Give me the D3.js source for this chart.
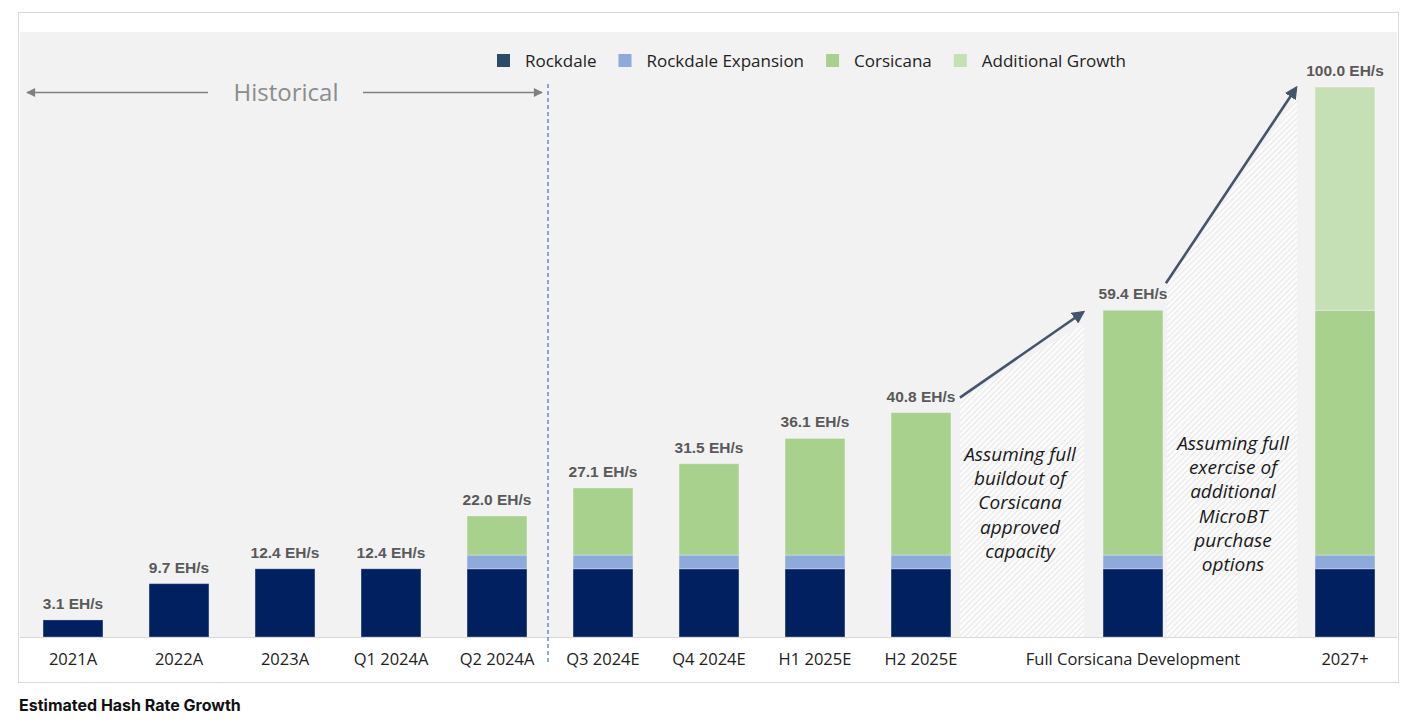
<!DOCTYPE html>
<html>
<head>
<meta charset="utf-8">
<script src="https://cdn.jsdelivr.net/npm/d3@7"></script>
<style>
  body { margin: 0; background: #fff; }
  svg { display: block; }
</style>
</head>
<body>
<div id="chart"></div>
<script>
// Categories (gap slots hold the hatched annotations)
const categories = ["2021A", "2022A", "2023A", "Q1 2024A", "Q2 2024A", "Q3 2024E", "Q4 2024E",
                    "H1 2025E", "H2 2025E", "Full Corsicana Development", "2027+"];
const slots = ["2021A", "2022A", "2023A", "Q1 2024A", "Q2 2024A", "Q3 2024E", "Q4 2024E",
               "H1 2025E", "H2 2025E", "gap1", "Full Corsicana Development", "gap2", "2027+"];

// Series values (EH/s)
const rockdale   = [3.1, 9.7, 12.4, 12.4, 12.4, 12.4, 12.4, 12.4, 12.4, 12.4, 12.4];
const expansion  = [0, 0, 0, 0, 2.5, 2.5, 2.5, 2.5, 2.5, 2.5, 2.5];
const corsicana  = [0, 0, 0, 0, 7.1, 12.2, 16.6, 21.2, 25.9, 44.5, 44.5];
const additional = [0, 0, 0, 0, 0, 0, 0, 0, 0, 0, 40.6];
const totals     = [3.1, 9.7, 12.4, 12.4, 22.0, 27.1, 31.5, 36.1, 40.8, 59.4, 100.0];

const seriesNames  = ["Rockdale", "Rockdale Expansion", "Corsicana", "Additional Growth"];
const seriesColors = ["#002060", "#8EA9DB", "#A9D18E", "#C5E0B4"];
const legendColors = ["#2E4A6B", "#8EA9DB", "#A9D18E", "#C5E0B4"];

const notes = {
  gap1: ["Assuming full", "buildout of", "Corsicana", "approved", "capacity"],
  gap2: ["Assuming full", "exercise of", "additional", "MicroBT", "purchase", "options"]
};

const width = 1417, height = 721;
const plot = { left: 20, right: 1398, top: 32, bottom: 637 };

const svg = d3.select("#chart").append("svg")
  .attr("width", width).attr("height", height);

// hatch pattern
const defs = svg.append("defs");
const pat = defs.append("pattern")
  .attr("id", "hatch").attr("patternUnits", "userSpaceOnUse")
  .attr("width", 4).attr("height", 4)
  .attr("patternTransform", "rotate(45)");
pat.append("rect").attr("width", 4).attr("height", 4).attr("fill", "#fbfbfb");
pat.append("line").attr("x1", 0).attr("y1", 0).attr("x2", 0).attr("y2", 4)
  .attr("stroke", "#d4d4d4").attr("stroke-width", 1);

const arrowDark = defs.append("marker")
  .attr("id", "arrowDark").attr("viewBox", "0 0 10 10")
  .attr("refX", 8).attr("refY", 5)
  .attr("markerWidth", 5).attr("markerHeight", 5)
  .attr("markerUnits", "strokeWidth")
  .attr("orient", "auto");
arrowDark.append("path").attr("d", "M0,0 L10,5 L0,10 z").attr("fill", "#44546A");

const arrowGray = defs.append("marker")
  .attr("id", "arrowGray").attr("viewBox", "0 0 10 10")
  .attr("refX", 9).attr("refY", 5)
  .attr("markerWidth", 7).attr("markerHeight", 6)
  .attr("markerUnits", "strokeWidth")
  .attr("orient", "auto-start-reverse");
arrowGray.append("path").attr("d", "M0,0 L10,5 L0,10 z").attr("fill", "#808080");

// outer frame and plot background
svg.append("rect")
  .attr("x", 18.5).attr("y", 12.5).attr("width", 1380).attr("height", 670)
  .attr("fill", "#fff").attr("stroke", "#d9d9d9");
svg.append("rect")
  .attr("x", plot.left).attr("y", plot.top)
  .attr("width", plot.right - plot.left - 1).attr("height", plot.bottom - plot.top)
  .attr("fill", "#f2f2f2");

const x = d3.scaleBand().domain(slots).range([plot.left, plot.right]).paddingInner(0.435).paddingOuter(0.2175);
const y = d3.scaleLinear().domain([0, 100]).range([plot.bottom, 87]);
const bw = x.bandwidth();

// stacked data
const rows = categories.map((c, i) => ({
  cat: c, "Rockdale": rockdale[i], "Rockdale Expansion": expansion[i],
  "Corsicana": corsicana[i], "Additional Growth": additional[i], total: totals[i]
}));
const stack = d3.stack().keys(seriesNames)(rows);

// hatched areas under the growth arrows
const fullIdx = categories.indexOf("Full Corsicana Development");
const arrows = [
  { from: [x("H2 2025E") + bw + 9, y(totals[8]) - 15], to: [x(categories[fullIdx]) - 20, y(totals[fullIdx]) + 2] },
  { from: [x(categories[fullIdx]) + bw + 3, y(totals[fullIdx]) - 27], to: [x("2027+") - 19, y(totals[10]) + 1] }
];
const hatchTopOffsets = [[2, 11], [0, 9]];
arrows.forEach((a, i) => {
  const l = a.from[0] + (i === 1 ? 1 : 0), r = a.to[0] + 1;
  const pts = [[l, plot.bottom], [l, a.from[1] + hatchTopOffsets[i][0]],
               [r, a.to[1] + hatchTopOffsets[i][1]], [r, plot.bottom]];
  svg.append("path").attr("d", d3.line()(pts) + "Z").attr("fill", "url(#hatch)");
});

// bars
svg.append("g").selectAll("g").data(stack).join("g")
  .attr("fill", (d, i) => seriesColors[i])
  .selectAll("rect").data(d => d.filter(s => s[1] - s[0] > 0)).join("rect")
  .attr("x", d => x(d.data.cat))
  .attr("y", d => y(d[1]))
  .attr("width", bw)
  .attr("height", d => y(d[0]) - y(d[1]))
  .attr("stroke", "rgba(255,255,255,0.3)").attr("stroke-width", 1);

// value labels
svg.append("g").selectAll("text").data(rows).join("text")
  .attr("x", d => x(d.cat) + bw / 2)
  .attr("y", d => y(d.total) - 11)
  .attr("text-anchor", "middle")
  .attr("font-family", "Liberation Sans, Arial, sans-serif")
  .attr("font-weight", "bold").attr("font-size", 15.5)
  .attr("fill", "#595959")
  .text(d => d.total.toFixed(1) + " EH/s");

// growth arrows
arrows.forEach(a => {
  svg.append("line")
    .attr("x1", a.from[0]).attr("y1", a.from[1])
    .attr("x2", a.to[0]).attr("y2", a.to[1])
    .attr("stroke", "#44546A").attr("stroke-width", 2.6)
    .attr("marker-end", "url(#arrowDark)");
});

// annotations in gap slots
const noteTops = { gap1: 454, gap2: 443 };
Object.keys(notes).forEach(k => {
  const cx = x(k) + bw / 2 + (k === "gap1" ? -7 : -6);
  const t = svg.append("text")
    .attr("x", cx)
    .attr("y", noteTops[k] + 7)
    .attr("text-anchor", "middle")
    .attr("font-family", "Open Sans, sans-serif")
    .attr("font-style", "italic").attr("font-size", 19)
    .attr("fill", "#1a1a1a");
  notes[k].forEach((line, i) => {
    t.append("tspan").attr("x", cx)
      .attr("dy", i === 0 ? 0 : 24.2).text(line);
  });
});

// x axis
const axis = svg.append("g")
  .attr("transform", `translate(0,${plot.bottom})`)
  .call(d3.axisBottom(x).tickSize(0).tickPadding(16)
    .tickFormat(d => d.startsWith("gap") ? "" : d));
axis.select(".domain").attr("stroke", "#d9d9d9").attr("d", `M${plot.left},0.5H${plot.right - 1}`);
axis.selectAll("text")
  .attr("font-family", "Open Sans, sans-serif").attr("font-size", 16.5)
  .attr("fill", "#222");

// historical / forecast divider
const divX = (x("Q2 2024A") + bw + x("Q3 2024E")) / 2 - 2;
svg.append("line")
  .attr("x1", divX).attr("x2", divX).attr("y1", 84).attr("y2", 664)
  .attr("stroke", "#4472C4").attr("stroke-width", 1.2)
  .attr("stroke-dasharray", "4,3");

// Historical label with arrows
svg.append("text")
  .attr("x", 286).attr("y", 101)
  .attr("text-anchor", "middle")
  .attr("font-family", "Open Sans, sans-serif").attr("font-size", 24)
  .attr("fill", "#8c8c8c").text("Historical");
svg.append("line").attr("x1", 208).attr("x2", 27).attr("y1", 92.5).attr("y2", 92.5)
  .attr("stroke", "#808080").attr("stroke-width", 1.5).attr("marker-end", "url(#arrowGray)");
svg.append("line").attr("x1", 363).attr("x2", divX - 6).attr("y1", 92.5).attr("y2", 92.5)
  .attr("stroke", "#808080").attr("stroke-width", 1.5).attr("marker-end", "url(#arrowGray)");

// legend
const legend = svg.append("g");
let lx = 497;
seriesNames.forEach((name, i) => {
  legend.append("rect").attr("x", lx).attr("y", 54).attr("width", 13).attr("height", 13)
    .attr("fill", legendColors[i]);
  const t = legend.append("text").attr("x", lx + 28).attr("y", 67)
    .attr("font-family", "Open Sans, sans-serif").attr("font-size", 17)
    .attr("fill", "#222").text(name);
  lx += 28 + t.node().getComputedTextLength() + 22;
});

// title
svg.append("text")
  .attr("x", 19).attr("y", 711)
  .attr("font-family", "Inter, sans-serif").attr("font-weight", "bold").attr("font-size", 16)
  .attr("fill", "#111")
  .text("Estimated Hash Rate Growth");
</script>
</body>
</html>
